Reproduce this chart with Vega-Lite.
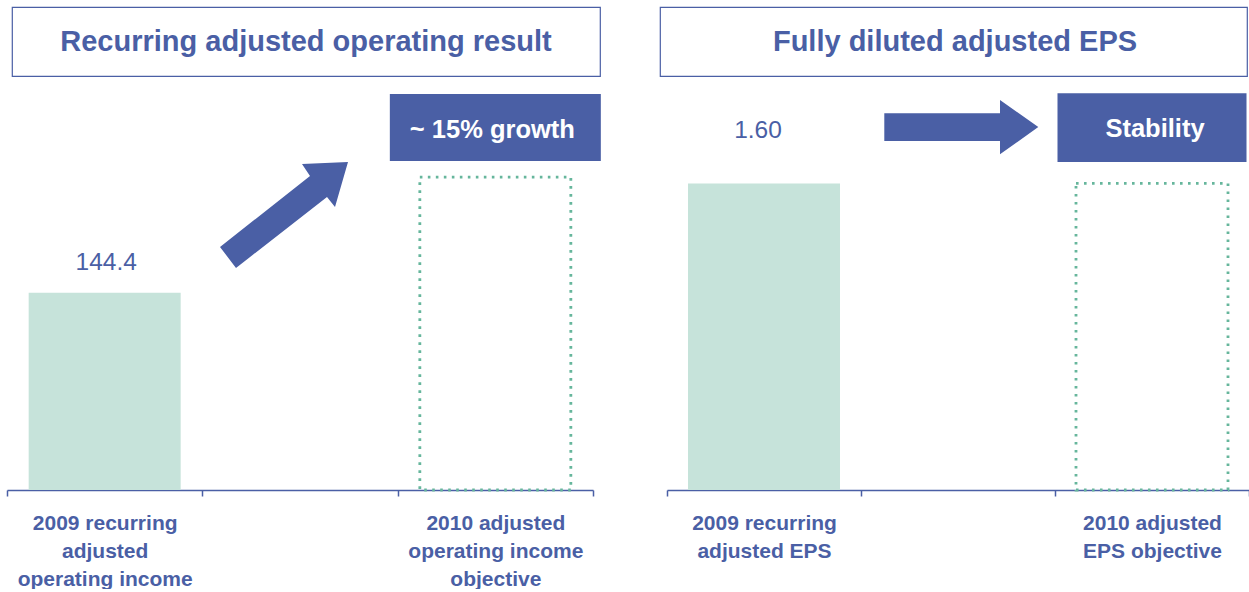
{
  "$schema": "https://vega.github.io/schema/vega-lite/v6.json",
  "background": "white",
  "padding": {"left": 6, "top": 6, "right": 0, "bottom": 0},
  "config": {
    "view": {"stroke": null},
    "font": "Liberation Sans",
    "axis": {"grid": false}
  },
  "spacing": 3,
  "vconcat": [
    {
      "bounds": "flush",
      "spacing": 4,
      "hconcat": [
        {
          "width": 1,
          "height": 69,
          "data": {"values": [{"spacer": ""}]},
          "mark": {"type": "text"},
          "encoding": {"text": {"field": "spacer"}}
        },
        {
          "bounds": "flush",
          "spacing": 60,
          "hconcat": [
            {
              "width": 588,
              "height": 69,
              "view": {"stroke": "#4A5FA5", "strokeWidth": 1.2},
              "data": {"values": [{"title": "Recurring adjusted operating result"}]},
              "mark": {"type": "text", "font": "Liberation Sans", "fontSize": 29, "fontWeight": "bold", "color": "#4A5FA5", "baseline": "alphabetic", "dy": 9.5},
              "encoding": {"text": {"field": "title"}}
            },
            {
              "width": 587,
              "height": 69,
              "view": {"stroke": "#4A5FA5", "strokeWidth": 1.2},
              "data": {"values": [{"title": "Fully diluted adjusted EPS"}]},
              "mark": {"type": "text", "font": "Liberation Sans", "fontSize": 29, "fontWeight": "bold", "color": "#4A5FA5", "baseline": "alphabetic", "dy": 9.5, "dx": 1.5},
              "encoding": {"text": {"field": "title"}}
            }
          ]
        }
      ]
    },
    {
      "bounds": "flush",
      "spacing": 74,
      "hconcat": [
        {
          "width": 586,
          "height": 410,
          "data": {"values": [
            {"category": "2009 recurring|adjusted|operating income", "series": "2009 actual", "value": 144.4},
            {"category": "2010 adjusted|operating income|objective", "series": "2010 objective", "value": 229}
          ]},
          "layer": [
            {
              "transform": [{"filter": "datum.series == '2009 actual'"}],
              "mark": {"type": "bar", "width": 152, "color": "#C6E3DA"},
              "encoding": {
                "x": {
                  "field": "category", "type": "nominal",
                  "scale": {"domain": ["2009 recurring|adjusted|operating income", "gap", "2010 adjusted|operating income|objective"], "paddingInner": 0, "paddingOuter": 0},
                  "axis": {
                    "title": null,
                    "labelExpr": "isString(datum.value) && datum.value != 'gap' ? split(datum.value, '|') : ''",
                    "labelAngle": 0, "labelFont": "Liberation Sans", "labelFontSize": 21, "labelFontWeight": "bold",
                    "labelColor": "#4A5FA5", "labelLineHeight": 28, "labelPadding": 16, "labelBaseline": "top",
                    "labelAlign": "center", "labelLimit": 0, "labelOverlap": false,
                    "tickBand": "extent", "tickSize": 6, "tickColor": "#4A5FA5", "tickWidth": 1.5,
                    "domainColor": "#4A5FA5", "domainWidth": 1.5
                  }
                },
                "y": {"field": "value", "type": "quantitative", "scale": {"domain": [0, 300], "nice": false}, "axis": null}
              }
            },
            {
              "transform": [{"filter": "datum.series == '2010 objective'"}],
              "mark": {"type": "bar", "width": 151, "fillOpacity": 0, "stroke": "#66B69C", "strokeWidth": 2.8, "strokeDash": [2.6, 5.4]},
              "encoding": {
                "x": {"field": "category", "type": "nominal"},
                "y": {"field": "value", "type": "quantitative"}
              }
            },
            {
              "transform": [{"filter": "datum.series == '2009 actual'"}],
              "mark": {"type": "text", "font": "Liberation Sans", "fontSize": 24.5, "color": "#4A5FA5", "baseline": "alphabetic", "dy": -23, "dx": 1.5},
              "encoding": {
                "x": {"field": "category", "type": "nominal"},
                "y": {"field": "value", "type": "quantitative"},
                "text": {"field": "value", "type": "quantitative", "format": ".1f"}
              }
            },
            {
              "data": {"values": [{"note": "growth arrow"}]},
              "mark": {"type": "point", "shape": "M-0.8,0.303L0.1,-0.407L0.02,-0.527L0.48,-0.547L0.35,-0.097L0.27,-0.197L-0.64,0.513Z", "size": 40000, "filled": true, "color": "#4A5FA5", "opacity": 1, "strokeWidth": 0},
              "encoding": {
                "x": {"datum": "gap", "type": "nominal"},
                "y": {"datum": 200, "type": "quantitative"}
              }
            },
            {
              "data": {"values": [{"note": "~ 15% growth"}]},
              "mark": {"type": "bar", "width": 211, "color": "#4A5FA5"},
              "encoding": {
                "x": {"datum": "2010 adjusted|operating income|objective", "type": "nominal"},
                "y": {"datum": 289.8, "type": "quantitative"},
                "y2": {"datum": 240.7}
              }
            },
            {
              "data": {"values": [{"note": "~ 15% growth"}]},
              "mark": {"type": "text", "font": "Liberation Sans", "fontSize": 25.5, "fontWeight": "bold", "color": "white", "baseline": "alphabetic", "dx": -3},
              "encoding": {
                "x": {"datum": "2010 adjusted|operating income|objective", "type": "nominal"},
                "y": {"datum": 257.8, "type": "quantitative"},
                "text": {"field": "note"}
              }
            }
          ]
        },
        {
          "width": 582,
          "height": 410,
          "data": {"values": [
            {"category": "2009 recurring|adjusted EPS", "series": "2009 actual", "value": 1.6},
            {"category": "2010 adjusted|EPS objective", "series": "2010 objective", "value": 1.6}
          ]},
          "layer": [
            {
              "transform": [{"filter": "datum.series == '2009 actual'"}],
              "mark": {"type": "bar", "width": 152, "color": "#C6E3DA"},
              "encoding": {
                "x": {
                  "field": "category", "type": "nominal",
                  "scale": {"domain": ["2009 recurring|adjusted EPS", "gap", "2010 adjusted|EPS objective"], "paddingInner": 0, "paddingOuter": 0},
                  "axis": {
                    "title": null,
                    "labelExpr": "isString(datum.value) && datum.value != 'gap' ? split(datum.value, '|') : ''",
                    "labelAngle": 0, "labelFont": "Liberation Sans", "labelFontSize": 21, "labelFontWeight": "bold",
                    "labelColor": "#4A5FA5", "labelLineHeight": 28, "labelPadding": 16, "labelBaseline": "top",
                    "labelAlign": "center", "labelLimit": 0, "labelOverlap": false,
                    "tickBand": "extent", "tickSize": 6, "tickColor": "#4A5FA5", "tickWidth": 1.5,
                    "domainColor": "#4A5FA5", "domainWidth": 1.5
                  }
                },
                "y": {"field": "value", "type": "quantitative", "scale": {"domain": [0, 2.14], "nice": false}, "axis": null}
              }
            },
            {
              "transform": [{"filter": "datum.series == '2010 objective'"}],
              "mark": {"type": "bar", "width": 152, "fillOpacity": 0, "stroke": "#66B69C", "strokeWidth": 2.8, "strokeDash": [2.6, 5.4]},
              "encoding": {
                "x": {"field": "category", "type": "nominal"},
                "y": {"field": "value", "type": "quantitative"}
              }
            },
            {
              "transform": [{"filter": "datum.series == '2009 actual'"}],
              "mark": {"type": "text", "font": "Liberation Sans", "fontSize": 24.5, "color": "#4A5FA5", "baseline": "alphabetic", "dy": -45, "dx": -6},
              "encoding": {
                "x": {"field": "category", "type": "nominal"},
                "y": {"field": "value", "type": "quantitative"},
                "text": {"field": "value", "type": "quantitative", "format": ".2f"}
              }
            },
            {
              "data": {"values": [{"note": "stability arrow"}]},
              "mark": {"type": "point", "shape": "M-0.737,-0.127L0.42,-0.127L0.42,-0.26L0.803,0.01L0.42,0.283L0.42,0.15L-0.737,0.15Z", "size": 40000, "filled": true, "color": "#4A5FA5", "opacity": 1, "strokeWidth": 0},
              "encoding": {
                "x": {"datum": "gap", "type": "nominal"},
                "y": {"datum": 1.9, "type": "quantitative"}
              }
            },
            {
              "data": {"values": [{"note": "Stability"}]},
              "mark": {"type": "bar", "width": 189, "color": "#4A5FA5"},
              "encoding": {
                "x": {"datum": "2010 adjusted|EPS objective", "type": "nominal"},
                "y": {"datum": 2.0706, "type": "quantitative"},
                "y2": {"datum": 1.712}
              }
            },
            {
              "data": {"values": [{"note": "Stability"}]},
              "mark": {"type": "text", "font": "Liberation Sans", "fontSize": 25.5, "fontWeight": "bold", "color": "white", "baseline": "alphabetic", "dx": 3},
              "encoding": {
                "x": {"datum": "2010 adjusted|EPS objective", "type": "nominal"},
                "y": {"datum": 1.8441, "type": "quantitative"},
                "text": {"field": "note"}
              }
            }
          ]
        }
      ]
    }
  ]
}
